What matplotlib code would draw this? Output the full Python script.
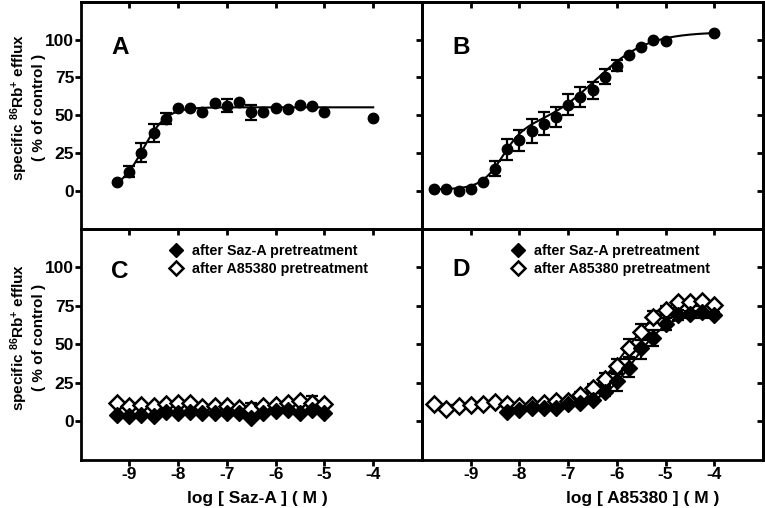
import numpy as np
import matplotlib
matplotlib.use("Agg")
import matplotlib.pyplot as plt
from matplotlib.lines import Line2D

plt.rcParams['font.family'] = ['Liberation Sans', 'DejaVu Sans']
plt.rcParams['font.weight'] = 'bold'
plt.rcParams['axes.unicode_minus'] = False
plt.rcParams['mathtext.fontset'] = 'custom'
plt.rcParams['mathtext.rm'] = 'Liberation Sans:bold'
plt.rcParams['mathtext.bf'] = 'Liberation Sans:bold'
plt.rcParams['mathtext.default'] = 'bf'

# ---------------- data ----------------
# Panel A: Saz-A
a_x = [-9.25, -9.0, -8.75, -8.5, -8.25, -8.0, -7.75, -7.5, -7.25, -7.0,
       -6.75, -6.5, -6.25, -6.0, -5.75, -5.5, -5.25, -5.0, -4.0]
a_y = [6, 12.7, 25.4, 38.5, 47.7, 55, 55, 52, 58, 56.5,
       58.5, 52, 52, 55, 54, 57, 56.5, 52, 48]
a_err = [0, 3.6, 6.5, 5.8, 3.6, 0, 0, 0, 0, 4.4,
         0, 5, 0, 0, 0, 0, 0, 0, 0]
a_fit = dict(bottom=0.0, top=55.3, logec50=-8.72, hill=1.8, x0=-9.25, x1=-4.0)

# Panel B: A85380
b_x = [-9.75, -9.5, -9.25, -9.0, -8.75, -8.5, -8.25, -8.0, -7.75, -7.5, -7.25,
       -7.0, -6.75, -6.5, -6.25, -6.0, -5.75, -5.5, -5.25, -5.0, -4.0]
b_y = [1.7, 1.3, 0.2, 1.7, 6.1, 14.9, 27.5, 33.6, 39.6, 44.6, 49,
       57, 62, 66.4, 75.6, 82.8, 89.8, 95.3, 100, 99.2, 104.5]
b_err = [0, 0, 0, 0, 0, 4.7, 6.8, 7, 8, 7.7, 6.8,
         6.8, 6.5, 5.8, 5, 3.6, 0, 0, 0, 0, 0]
b_fit = dict(bottom=1.0, amp1=40.0, logec1=-8.35, hill1=2.0,
             amp2=64.0, logec2=-6.45, hill2=0.8, x0=-9.75, x1=-4.0)

# Panel C: Saz-A after pretreatment
c_x = [-9.25, -9.0, -8.75, -8.5, -8.25, -8.0, -7.75, -7.5, -7.25,
       -7.0, -6.75, -6.5, -6.25, -6.0, -5.75, -5.5, -5.25, -5.0]
c_saz = [4, 3, 4, 3, 6, 5, 6, 5.5, 5.5, 5.5, 5, 2, 5.5, 6.5, 7.5, 5.5, 7, 5.5]
c_a85 = [12, 9.5, 10.5, 10, 11, 11.5, 12, 9, 9.5, 10, 8.5, 8, 9.5, 10.5, 12, 13, 12, 11]
c_a85_err = [0, 0, 0, 0, 0, 0, 0, 0, 0, 0, 0, 3.5, 0, 0, 0, 0, 4.5, 0]

# Panel D: A85380 after pretreatment
d_x_saz = [-8.25, -8.0, -7.75, -7.5, -7.25, -7.0, -6.75, -6.5, -6.25,
           -6.0, -5.75, -5.5, -5.25, -5.0, -4.75, -4.5, -4.25, -4.0]
d_saz = [5.8, 7.4, 8.6, 8.3, 8.3, 11.3, 11.8, 13.8, 19.2,
         25.8, 34.5, 47.6, 54.1, 63.3, 69, 69.4, 71.2, 69]
d_saz_err = [0, 0, 0, 0, 0, 0, 0, 2, 3, 6, 6, 7, 5, 4, 3, 2, 4, 2]
d_x_a85 = [-9.75, -9.5, -9.25, -9.0, -8.75, -8.5, -8.25, -8.0, -7.75, -7.5, -7.25, -7.0,
           -6.75, -6.5, -6.25, -6.0, -5.75, -5.5, -5.25, -5.0, -4.75, -4.5, -4.25, -4.0]
d_a85 = [11.1, 8.0, 10.0, 10.5, 11.0, 12.2, 10.9, 9.8, 10.5, 11.6, 13.1, 13.1,
         17, 21.4, 27.5, 35.6, 47.6, 58, 67.7, 72, 77.7, 77.7, 78.2, 75.5]
d_a85_err = [0, 0, 0, 0, 0, 0, 0, 0, 0, 0, 0, 0, 2, 3, 4, 5, 6, 5, 4, 3, 0, 0, 0, 0]
d_fit_saz = dict(bottom=8.0, top=71.0, logec50=-5.65, hill=1.2, x0=-8.25, x1=-4.0)
d_fit_a85 = dict(bottom=10.5, top=78.5, logec50=-5.85, hill=1.1, x0=-9.75, x1=-4.0)

xticks = [-9, -8, -7, -6, -5, -4]
yticks = [0, 25, 50, 75, 100]
legend_labels = ["after Saz-A pretreatment", "after A85380 pretreatment"]
ylabel_text = "specific $^{86}$Rb$^{+}$ efflux\n( % of control )"

# ---------------- helpers ----------------
def hill(x, p):
    return p['bottom'] + (p['top'] - p['bottom']) / (1 + 10 ** (p['hill'] * (p['logec50'] - x)))

def twosite(x, p):
    return (p['bottom'] + p['amp1'] / (1 + 10 ** (p['hill1'] * (p['logec1'] - x)))
            + p['amp2'] / (1 + 10 ** (p['hill2'] * (p['logec2'] - x))))

def errbars(ax, x, y, e):
    x = np.asarray(x, float); y = np.asarray(y, float); e = np.asarray(e, float)
    m = e > 0
    ax.errorbar(x[m], y[m], yerr=e[m], fmt='none', ecolor='k', elinewidth=1.6,
                capsize=4.5, capthick=1.6, zorder=2)

W, H = 765, 508
fig = plt.figure(figsize=(W / 100, H / 100), dpi=100)
L, R = 80.5 / W, 763 / W
T, Bt = 1 - 1.7 / H, 1 - 459.5 / H
MX, MY = 422 / W, 1 - 229 / H

axA = fig.add_axes([L, MY, MX - L, T - MY])
axB = fig.add_axes([MX, MY, R - MX, T - MY])
axC = fig.add_axes([L, Bt, MX - L, MY - Bt])
axD = fig.add_axes([MX, Bt, R - MX, MY - Bt])

lw_sp = 2.0
for ax in (axA, axB, axC, axD):
    ax.set_facecolor('none')
    ax.set_xlim(-10, -3)
    ax.set_ylim(-25, 125)
    ax.set_xticks(xticks)
    ax.set_yticks(yticks)
    for s in ax.spines.values():
        s.set_linewidth(lw_sp)
    ax.tick_params(axis='both', direction='out', length=4.5, width=2,
                   labelsize=12.5, pad=1)
    ax.tick_params(axis='y', pad=0)
    for lab in ax.get_xticklabels() + ax.get_yticklabels():
        lab.set_fontweight('bold')

for ax in (axA, axB):
    ax.tick_params(axis='x', labelbottom=False)
    sec = ax.secondary_xaxis('top')
    sec.set_xticks(xticks)
    sec.tick_params(direction='in', length=4.5, width=2, labeltop=False)
    sec.spines['top'].set_linewidth(lw_sp)
for ax in (axB, axD):
    ax.tick_params(axis='y', labelleft=False)
    sec = ax.secondary_yaxis('right')
    sec.set_yticks(yticks)
    sec.tick_params(direction='in', length=4.5, width=2, labelright=False)
    sec.spines['right'].set_linewidth(lw_sp)

# Panel A
xx = np.linspace(a_fit['x0'], a_fit['x1'], 300)
axA.plot(xx, hill(xx, a_fit), color='k', lw=1.5, zorder=1)
errbars(axA, a_x, a_y, a_err)
axA.plot(a_x, a_y, 'o', color='k', ms=7.5, zorder=3)

# Panel B
xx = np.linspace(b_fit['x0'], b_fit['x1'], 300)
axB.plot(xx, twosite(xx, b_fit), color='k', lw=1.5, zorder=1)
errbars(axB, b_x, b_y, b_err)
axB.plot(b_x, b_y, 'o', color='k', ms=7.5, zorder=3)

# Panel C
dms = 8
errbars(axC, c_x, c_a85, c_a85_err)
axC.plot(c_x, c_a85, 'D', mfc='white', mec='k', mew=1.8, ms=dms, zorder=3)
axC.plot(c_x, c_saz, 'D', color='k', ms=dms, zorder=4)

# Panel D
for p in (d_fit_a85, d_fit_saz):
    xx = np.linspace(p['x0'], p['x1'], 300)
    axD.plot(xx, hill(xx, p), color='k', lw=1.5, zorder=1)
errbars(axD, d_x_a85, d_a85, d_a85_err)
errbars(axD, d_x_saz, d_saz, d_saz_err)
axD.plot(d_x_a85, d_a85, 'D', mfc='white', mec='k', mew=1.8, ms=dms, zorder=3)
axD.plot(d_x_saz, d_saz, 'D', color='k', ms=dms, zorder=4)

# legends
handles = [Line2D([], [], marker='D', color='k', ls='none', ms=7.5),
           Line2D([], [], marker='D', mfc='white', mec='k', mew=1.8, ls='none', ms=7.5)]
for ax in (axC, axD):
    ax.legend(handles, legend_labels, loc='upper left', bbox_to_anchor=(0.235, 0.972),
              frameon=False, handlelength=1.0, handletextpad=0.6, labelspacing=0.3,
              prop={'weight': 'bold', 'size': 10.3}, borderaxespad=0.2)

# panel letters
for ax, letter, yv in ((axA, 'A', 95), (axB, 'B', 95), (axC, 'C', 97.5), (axD, 'D', 98.5)):
    ax.text(-9.37, yv, letter, fontsize=17.5, fontweight='bold', ha='left', va='center')

# y labels
for ycen in (107, 337):
    fig.text(27 / W, 1 - ycen / H, ylabel_text, rotation=90, ha='center', va='center',
             fontsize=11, fontweight='bold', multialignment='center', linespacing=1.15)

# x labels
axC.set_xlabel("log [ Saz-A ] ( M )", fontsize=12.5, fontweight='bold')
axC.xaxis.set_label_coords(0.518, -0.138)
axD.set_xlabel("log [ A85380 ] ( M )", fontsize=12.5, fontweight='bold')
axD.xaxis.set_label_coords(0.648, -0.138)

fig.savefig("out.png", dpi=100, facecolor='white')
